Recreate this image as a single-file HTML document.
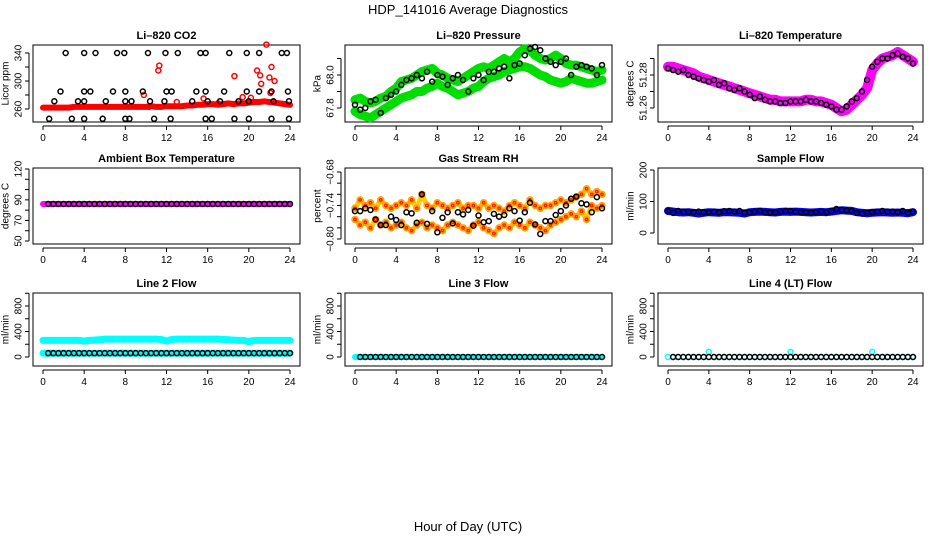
<!DOCTYPE html>
<html><head><meta charset="utf-8"><style>
html,body{margin:0;padding:0;background:#fff;}
svg{display:block;font-family:"Liberation Sans",Arial,sans-serif;}
</style></head><body>
<svg id="chart" width="936" height="540" viewBox="0 0 936 540" xmlns="http://www.w3.org/2000/svg">
<text x="468" y="14" text-anchor="middle" font-size="13">HDP_141016  Average Diagnostics</text>
<text x="468" y="531" text-anchor="middle" font-size="13">Hour of Day (UTC)</text>
</svg>
<script>
// ---- data ----
const halfHours = [0,0.5,1,1.5,2,2.5,3,3.5,4,4.5,5,5.5,6,6.5,7,7.5,8,8.5,9,9.5,10,10.5,11,11.5,12,12.5,13,13.5,14,14.5,15,15.5,16,16.5,17,17.5,18,18.5,19,19.5,20,20.5,21,21.5,22,22.5,23,23.5,24];
const xTicks = [0,4,8,12,16,20,24];

const co2Red = [262,262,262,262,262,262,263,263,263,263,263,263,263,263,263,263,263,263,263,263,263,264,263,263,264,264,264,264,265,265,266,266,267,267,266,267,268,267,268,268,269,270,270,271,270,269,268,267,266];
const co2RedSpikeT = [9.8,10.3,11.2,11.3,18.6,19.4,20.2,20.8,21.1,21.2,21.7,22.0,22.1,22.2,22.5,15.6,17.0,13.0];
const co2RedSpikeV = [280,263,315,322,307,277,276,315,308,296,352,305,283,320,300,275,268,270];
const co2BlackT = [2.2,4,5.1,7.2,7.9,10.2,11.9,13.1,15.3,15.8,18.1,19.8,21,23.2,23.7, 1.7,4,4.6,6.8,8,9.7,12,12.5,14.9,15.8,17.6,19.8,21,22.2,23.8, 1.1,3.4,4,6.1,8,8.6,10.4,11.8,14.5,16,17.2,19,20,22.4,23.9, 0.6,2.8,4,5.8,8,8.4,10.8,12.4,15.8,16.4,18.6,20,22.2,23.9];
const co2BlackV = [340,340,340,340,340,340,340,340,340,340,340,340,340,340,340, 285,285,285,285,285,285,285,285,285,285,285,285,285,285,285, 271,271,271,271,271,271,271,271,271,271,271,271,271,271,271, 246,246,246,246,246,246,246,246,246,246,246,246,246,246];

const presUpper = [67.85,67.86,67.84,67.83,67.84,67.86,67.87,67.9,67.92,67.96,67.97,67.98,68.0,68.02,68.03,68.04,68.01,68.0,67.98,67.97,67.96,67.98,68.0,68.02,68.04,68.05,68.04,68.06,68.08,68.1,68.08,68.1,68.14,68.16,68.15,68.12,68.1,68.09,68.1,68.12,68.1,68.07,68.06,68.06,68.05,68.04,68.03,68.02,68.03];
const presLower = [67.78,67.76,67.75,67.74,67.76,67.78,67.8,67.82,67.84,67.86,67.87,67.88,67.9,67.9,67.92,67.93,67.95,67.93,67.92,67.9,67.88,67.89,67.9,67.92,67.93,67.96,67.98,67.99,68.0,68.02,68.03,68.04,68.05,68.05,68.04,68.02,68.0,67.99,67.97,67.96,67.95,67.96,67.98,67.97,67.96,67.95,67.95,67.96,67.97];
const presBlack = [67.82,67.79,67.8,67.84,67.85,67.77,67.86,67.88,67.9,67.94,67.97,67.98,68.0,67.98,68.02,67.96,68.0,67.99,67.94,67.98,68.0,67.97,67.9,67.98,68.0,67.97,68.02,68.02,68.04,68.05,67.98,68.06,68.07,68.12,68.16,68.17,68.15,68.1,68.08,68.06,68.08,68.1,68.0,68.05,68.06,68.05,68.04,68.0,68.06];

const tempMagenta = [51.285,51.285,51.284,51.283,51.282,51.281,51.279,51.278,51.277,51.276,51.275,51.274,51.273,51.272,51.271,51.270,51.269,51.268,51.267,51.266,51.265,51.265,51.264,51.264,51.264,51.264,51.264,51.265,51.265,51.264,51.264,51.263,51.262,51.260,51.258,51.259,51.262,51.265,51.268,51.272,51.283,51.287,51.290,51.291,51.292,51.294,51.292,51.290,51.288];
const tempBlack = [51.284,51.283,51.282,51.283,51.280,51.279,51.278,51.277,51.276,51.277,51.274,51.275,51.272,51.271,51.272,51.270,51.268,51.266,51.267,51.265,51.264,51.264,51.263,51.263,51.264,51.264,51.264,51.265,51.264,51.264,51.263,51.262,51.261,51.259,51.259,51.261,51.264,51.266,51.270,51.277,51.285,51.288,51.290,51.290,51.292,51.293,51.291,51.290,51.287];

const ambMagenta = [86,86,86,86,86,86,86,86,86,86,86,86,86,86,86,86,86,86,86,86,86,86,86,86,86,86,86,86,86,86,86,86,86,86,86,86,86,86,86,86,86,86,86,86,86,86,86,86,86];
const ambBlack = [86,86,86,86,86,86,86,86,86,86,86,86,86,86,86,86,86,86,86,86,86,86,86,86,86,86,86,86,86,86,86,86,86,86,86,86,86,86,86,86,86,86,86,86,86,86,86,86,86];

const rhUpper = [-0.745,-0.73,-0.74,-0.735,-0.745,-0.73,-0.74,-0.745,-0.74,-0.735,-0.74,-0.73,-0.745,-0.72,-0.74,-0.745,-0.735,-0.74,-0.745,-0.74,-0.735,-0.745,-0.74,-0.74,-0.745,-0.735,-0.745,-0.74,-0.745,-0.75,-0.74,-0.735,-0.74,-0.745,-0.73,-0.74,-0.745,-0.74,-0.74,-0.735,-0.73,-0.735,-0.73,-0.725,-0.72,-0.71,-0.72,-0.715,-0.72];
const rhLower = [-0.765,-0.775,-0.77,-0.78,-0.765,-0.775,-0.77,-0.78,-0.775,-0.77,-0.78,-0.785,-0.775,-0.77,-0.78,-0.775,-0.78,-0.785,-0.775,-0.77,-0.775,-0.78,-0.785,-0.775,-0.77,-0.78,-0.785,-0.79,-0.78,-0.775,-0.78,-0.77,-0.775,-0.78,-0.77,-0.775,-0.78,-0.785,-0.775,-0.77,-0.765,-0.76,-0.755,-0.76,-0.75,-0.765,-0.74,-0.745,-0.74];
const rhBlack = [-0.75,-0.75,-0.745,-0.748,-0.765,-0.775,-0.775,-0.76,-0.766,-0.775,-0.752,-0.754,-0.771,-0.72,-0.773,-0.75,-0.788,-0.762,-0.752,-0.772,-0.752,-0.756,-0.748,-0.776,-0.758,-0.77,-0.768,-0.755,-0.76,-0.757,-0.745,-0.75,-0.767,-0.752,-0.735,-0.774,-0.791,-0.768,-0.768,-0.757,-0.75,-0.74,-0.728,-0.724,-0.736,-0.738,-0.752,-0.725,-0.745];

const sfBlue = [70,68,66,65,66,64,62,64,66,65,64,66,66,65,64,62,66,67,68,67,66,65,67,68,67,68,67,66,65,66,67,66,68,70,72,71,70,66,64,63,64,65,66,65,64,65,64,63,66];
const sfBlack = [70,64,70,68,67,66,68,66,66,68,66,69,70,68,70,64,66,68,70,66,65,66,68,70,70,68,66,66,64,66,68,66,70,76,74,72,70,64,62,64,66,68,70,68,68,66,70,64,68];

const l2Cyan = [260,260,260,260,260,260,260,260,250,260,265,270,280,280,280,280,280,280,280,280,280,280,280,275,250,275,280,280,280,280,280,280,280,280,280,275,270,265,260,260,240,260,260,260,260,260,260,260,260];
const l2Black = [60,60,60,60,60,60,60,60,60,60,60,60,60,60,60,60,60,60,60,60,60,60,60,60,60,60,60,60,60,60,60,60,60,60,60,60,60,60,60,60,60,60,60,60,60,60,60,60,60];
const l3Cyan = [0,0,0,0,0,0,0,0,0,0,0,0,0,0,0,0,0,0,0,0,0,0,0,0,0,0,0,0,0,0,0,0,0,0,0,0,0,0,0,0,0,0,0,0,0,0,0,0,0];
const l3Black = [0,0,0,0,0,0,0,0,0,0,0,0,0,0,0,0,0,0,0,0,0,0,0,0,0,0,0,0,0,0,0,0,0,0,0,0,0,0,0,0,0,0,0,0,0,0,0,0,0];
const l4Cyan = [0,0,0,0,0,0,0,0,80,0,0,0,0,0,0,0,0,0,0,0,0,0,0,0,80,0,0,0,0,0,0,0,0,0,0,0,0,0,0,0,80,0,0,0,0,0,0,0,0];
const l4Black = [0,0,0,0,0,0,0,0,0,0,0,0,0,0,0,0,0,0,0,0,0,0,0,0,0,0,0,0,0,0,0,0,0,0,0,0,0,0,0,0,0,0,0,0,0,0,0,0,0];

// ---- layout ----
const NS = "http://www.w3.org/2000/svg";
const svg = document.getElementById('chart');
const cols = [{bx:33,bw:267,x0:43,x24:290},{bx:345,bw:267,x0:355,x24:602},{bx:658,bw:265,x0:668,x24:913}];
const rows = [{by:45,bh:77},{by:168,bh:76},{by:293,bh:73}];

function mk(tag, attrs, parent){ const e=document.createElementNS(NS,tag); for(const k in attrs) e.setAttribute(k,attrs[k]); (parent||svg).appendChild(e); return e; }

const panels = [
 {name:'co2', title:'Li\u2013820 CO2', ylab:'Licor ppm', c:0, r:0, ya:[260,109], yb:[340,53], ticks:[260,280,300,320,340], labels:[260,300,340], fmt:v=>String(v)},
 {name:'pressure', title:'Li\u2013820 Pressure', ylab:'kPa', c:1, r:0, ya:[67.8,108], yb:[68.0,75], ticks:[67.8,67.9,68.0,68.1], labels:[67.8,68.0], fmt:v=>v.toFixed(1)},
 {name:'temperature', title:'Li\u2013820 Temperature', ylab:'degrees C', c:2, r:0, ya:[51.26,108], yb:[51.28,75], ticks:[51.26,51.27,51.28,51.29], labels:[51.26,51.28], fmt:v=>v.toFixed(2)},
 {name:'ambient', title:'Ambient Box Temperature', ylab:'degrees C', c:0, r:1, ya:[50,241], yb:[120,169], ticks:[50,60,70,80,90,100,110,120], labels:[50,70,90,120], fmt:v=>String(v)},
 {name:'rh', title:'Gas Stream RH', ylab:'percent', c:1, r:1, ya:[-0.80,239], yb:[-0.68,172], ticks:[-0.80,-0.78,-0.76,-0.74,-0.72,-0.70,-0.68], labels:[-0.80,-0.74,-0.68], fmt:v=>'\u2212'+Math.abs(v).toFixed(2)},
 {name:'sample-flow', title:'Sample Flow', ylab:'ml/min', c:2, r:1, ya:[0,233], yb:[200,170], ticks:[0,100,200], labels:[0,100,200], fmt:v=>String(v)},
 {name:'line2', title:'Line 2 Flow', ylab:'ml/min', c:0, r:2, ya:[0,357], yb:[800,306], ticks:[0,200,400,600,800,1000], labels:[0,400,800], fmt:v=>String(v)},
 {name:'line3', title:'Line 3 Flow', ylab:'ml/min', c:1, r:2, ya:[0,357], yb:[800,306], ticks:[0,200,400,600,800,1000], labels:[0,400,800], fmt:v=>String(v)},
 {name:'line4', title:'Line 4 (LT) Flow', ylab:'ml/min', c:2, r:2, ya:[0,357], yb:[800,306], ticks:[0,200,400,600,800,1000], labels:[0,400,800], fmt:v=>String(v)}
];

function scales(p){
  const col=cols[p.c];
  const xs=t=>col.x0+t*(col.x24-col.x0)/24;
  const ys=v=>p.ya[1]+(v-p.ya[0])*(p.yb[1]-p.ya[1])/(p.yb[0]-p.ya[0]);
  return {xs,ys};
}

function drawAxes(p){
  const col=cols[p.c], row=rows[p.r];
  const {xs,ys}=scales(p);
  const g=mk('g',{});
  
  
  const t=mk('text',{x:col.bx+col.bw/2,y:row.by-6,'text-anchor':'middle','font-size':'11','font-weight':'bold'},g);
  t.textContent=p.title;
  
  
  const box=mk('rect',{x:col.bx,y:row.by,width:col.bw,height:row.bh,fill:'none',stroke:'#000','stroke-width':'1'},g);
  
  
  const by=row.by+row.bh;
  const xa=mk('line',{x1:xs(0),x2:xs(24),y1:by+4,y2:by+4,stroke:'#000'},g);
  
  
  xTicks.forEach(v=>{
    mk('line',{x1:xs(v),x2:xs(v),y1:by+4,y2:by+8,stroke:'#000'},g);
    const l=mk('text',{x:xs(v),y:by+19,'text-anchor':'middle','font-size':'10'},g);
    l.textContent=String(v);
    
    
  });
  const y0=ys(p.ticks[0]), y1=ys(p.ticks[p.ticks.length-1]);
  const ya=mk('line',{x1:col.bx-4,x2:col.bx-4,y1:y0,y2:y1,stroke:'#000'},g);
  
  
  p.ticks.forEach(v=>{ mk('line',{x1:col.bx-8,x2:col.bx-4,y1:ys(v),y2:ys(v),stroke:'#000'},g); });
  p.labels.forEach(v=>{
    const lx=col.bx-14, ly=ys(v);
    const l=mk('text',{x:lx,y:ly,'text-anchor':'middle','dominant-baseline':'central','font-size':'10',transform:`rotate(-90 ${lx} ${ly})`},g);
    l.textContent=p.fmt(v);
    
    
  });
  const tx=col.bx-27, ty=row.by+row.bh/2;
  const yt=mk('text',{x:tx,y:ty,'text-anchor':'middle','dominant-baseline':'central','font-size':'10',transform:`rotate(-90 ${tx} ${ty})`},g);
  yt.textContent=p.ylab;
  
  
  return g;
}

function band(p, g, ts, vs, color, w, name){
  const {xs,ys}=scales(p);
  const pts=ts.map((t,i)=>xs(t).toFixed(1)+','+ys(vs[i]).toFixed(1)).join(' ');
  const pl=mk('polyline',{points:pts,fill:'none',stroke:color,'stroke-width':w,'stroke-linejoin':'round','stroke-linecap':'round'},g);
  
  
}
function points(p, g, ts, vs, color, r, name){
  const {xs,ys}=scales(p);
  const pg=mk('g',{},g);
  
  
  ts.forEach((t,i)=>{
    const c=mk('circle',{cx:xs(t),cy:ys(vs[i]),r:r,fill:'none',stroke:color,'stroke-width':'1.5'},pg);
    
    
  });
}

const G = panels.map(drawAxes);
const ORANGE='#ffa500';
// CO2
band(panels[0],G[0],halfHours,co2Red,'#ff0000',6,'co2-red-band');
points(panels[0],G[0],co2RedSpikeT,co2RedSpikeV,'#ff0000',2.5,'co2-red-spikes');
points(panels[0],G[0],co2BlackT,co2BlackV,'#000',2.5,'co2-black');
// Pressure
band(panels[1],G[1],halfHours,presUpper,'#00dd00',9,'pressure-green-upper');
band(panels[1],G[1],halfHours,presLower,'#00dd00',9,'pressure-green-lower');
points(panels[1],G[1],halfHours,presBlack,'#000',2.5,'pressure-black');
// Temperature
band(panels[2],G[2],halfHours,tempMagenta,'#ff00ff',10,'temperature-magenta');
points(panels[2],G[2],halfHours,tempBlack,'#000',2.5,'temperature-black');
// Ambient
band(panels[3],G[3],halfHours,ambMagenta,'#ff00ff',6,'ambient-magenta');
points(panels[3],G[3],halfHours.slice(1),ambBlack.slice(1),'#000',2.5,'ambient-black');
// RH
band(panels[4],G[4],halfHours,rhUpper,'#ffcc00',5,'rh-band-upper');
band(panels[4],G[4],halfHours,rhLower,'#ffcc00',5,'rh-band-lower');
points(panels[4],G[4],halfHours,rhUpper,ORANGE,3,'rh-orange-upper');
points(panels[4],G[4],halfHours,rhLower,ORANGE,3,'rh-orange-lower');
points(panels[4],G[4],halfHours,rhUpper,'#ff2200',1.2,'rh-red-upper');
points(panels[4],G[4],halfHours,rhLower,'#ff2200',1.2,'rh-red-lower');
points(panels[4],G[4],halfHours,rhBlack,'#000',2.5,'rh-black');
// Sample flow
band(panels[5],G[5],halfHours,sfBlue,'#0000ff',8,'sample-flow-blue');
points(panels[5],G[5],halfHours,sfBlack,'#000',2.5,'sample-flow-black');
// Line 2
band(panels[6],G[6],halfHours,l2Cyan,'#00ffff',7,'line2-cyan');
band(panels[6],G[6],halfHours,l2Black,'#00ffff',7,'line2-cyan-low');
points(panels[6],G[6],halfHours.slice(1),l2Black.slice(1),'#000',2.5,'line2-black');
// Line 3
band(panels[7],G[7],halfHours,l3Cyan,'#00ffff',6,'line3-cyan');
points(panels[7],G[7],halfHours.slice(1),l3Black.slice(1),'#000',2.5,'line3-black');
// Line 4
points(panels[8],G[8],halfHours,l4Cyan,'#00ffff',2.5,'line4-cyan');
points(panels[8],G[8],halfHours.slice(1),l4Black.slice(1),'#000',2.5,'line4-black');
</script>
</body></html>
